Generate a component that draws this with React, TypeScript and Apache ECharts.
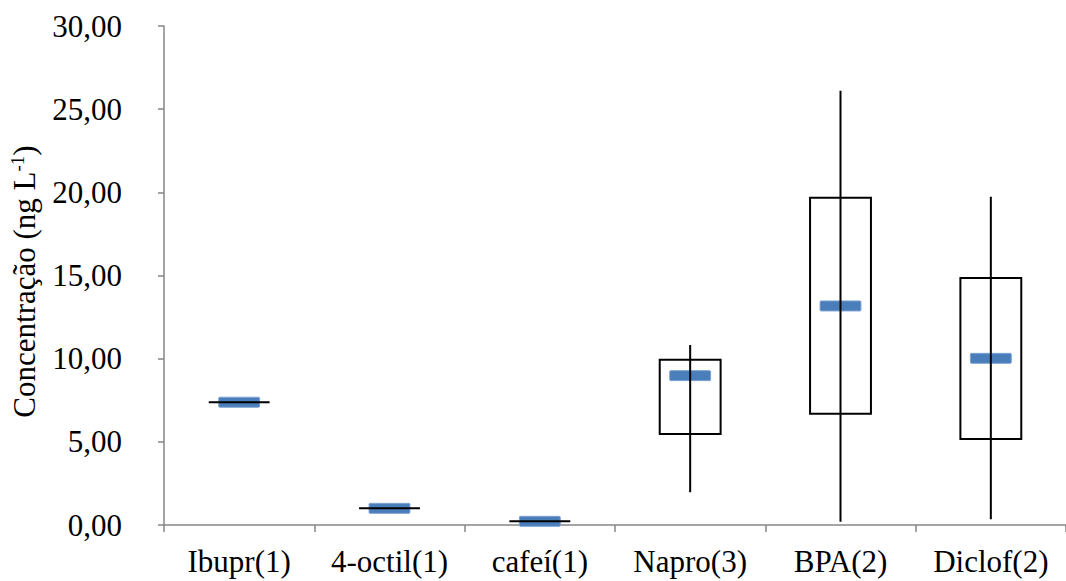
import React, { useEffect, useRef } from "react";
import * as echarts from "echarts";

// Compounds and the measured concentration spread (ng L-1)
const categories = ["Ibupr(1)", "4-octil(1)", "cafeí(1)", "Napro(3)", "BPA(2)", "Diclof(2)"];
const highs = [7.38, 1.0, 0.22, 10.82, 26.1, 19.74];
const boxTops = [7.38, 1.0, 0.22, 9.94, 19.68, 14.85];
const boxBottoms = [7.38, 1.0, 0.22, 5.47, 6.69, 5.17];
const lows = [7.38, 1.0, 0.22, 1.97, 0.2, 0.34];
const marks = [7.38, 1.0, 0.22, 8.98, 13.17, 10.02];
const yTicks = { min: 0, max: 30, interval: 5 };

const FONT = "Times New Roman";
const FS = 31;

export default function App() {
  const ref = useRef<HTMLDivElement>(null);

  useEffect(() => {
    if (!ref.current) return;
    const chart = echarts.init(ref.current, undefined, { renderer: "svg" });

    const data = categories.map((_, i) => [i, lows[i], boxBottoms[i], boxTops[i], highs[i], marks[i]]);

    chart.setOption({
      animation: false,
      backgroundColor: "#ffffff",
      textStyle: { fontFamily: FONT },
      grid: { left: 150, top: 26, width: 927, bottom: 56, containLabel: false },
      xAxis: {
        type: "category",
        data: categories,
        boundaryGap: true,
        axisLine: { lineStyle: { color: "#868686", width: 1.5 } },
        axisTick: { show: true, length: 7, alignWithLabel: false, interval: 0, lineStyle: { color: "#868686", width: 1.5 } },
        axisLabel: { color: "#000", fontFamily: FONT, fontSize: FS, margin: 21, interval: 0, hideOverlap: false },
        splitLine: { show: false },
      },
      yAxis: {
        type: "value",
        min: yTicks.min,
        max: yTicks.max,
        interval: yTicks.interval,
        axisLine: { show: true, lineStyle: { color: "#868686", width: 1.5 } },
        axisTick: { show: true, length: 6, lineStyle: { color: "#868686", width: 1.5 } },
        axisLabel: {
          color: "#000",
          fontFamily: FONT,
          fontSize: FS,
          margin: 42,
          formatter: (v: number) => v.toFixed(2).replace(".", ","),
        },
        splitLine: { show: false },
        name: "{a|Concentração (ng L}{s|-1}{a|)}",
        nameLocation: "middle",
        nameRotate: 90,
        nameGap: 124,
        nameTextStyle: {
          padding: [0, 12, 0, 0],
          rich: {
            a: { fontFamily: FONT, fontSize: FS, color: "#000", lineHeight: 32 },
            s: { fontFamily: FONT, fontSize: 19, color: "#000", verticalAlign: "top", lineHeight: 32 },
          },
        },
      },
      series: [
        {
          type: "custom",
          data,
          encode: { x: 0, y: [1, 2, 3, 4, 5] },
          clip: false,
          renderItem: (params: any, api: any) => {
            const idx = api.value(0);
            const cw = api.size([1, 0])[0];
            const boxW = cw * 0.405;
            const markW = cw * 0.272;
            const pLow = api.coord([idx, api.value(1)]);
            const pBoxLow = api.coord([idx, api.value(2)]);
            const pBoxHigh = api.coord([idx, api.value(3)]);
            const pHigh = api.coord([idx, api.value(4)]);
            const pMark = api.coord([idx, api.value(5)]);
            const cx = pLow[0];
            const boxH = Math.abs(pBoxLow[1] - pBoxHigh[1]);
            return {
              type: "group",
              children: [
                {
                  type: "rect",
                  shape: { x: cx - markW / 2, y: pMark[1] - 5, width: markW, height: 10, r: 1 },
                  style: { fill: "#4a7ebb", stroke: "#7ea3d3", lineWidth: 1 },
                },
                {
                  type: "rect",
                  shape: { x: cx - boxW / 2, y: pBoxHigh[1], width: boxW, height: boxH },
                  style: { fill: "none", stroke: "#000", lineWidth: 2 },
                },
                {
                  type: "line",
                  shape: { x1: cx, y1: pHigh[1], x2: cx, y2: pLow[1] },
                  style: { stroke: "#000", lineWidth: 2 },
                },
              ],
            };
          },
        },
      ],
    });

    return () => chart.dispose();
  }, []);

  return <div ref={ref} style={{ width: 1066, height: 581, position: "absolute", left: 0, top: 0 }} />;
}
